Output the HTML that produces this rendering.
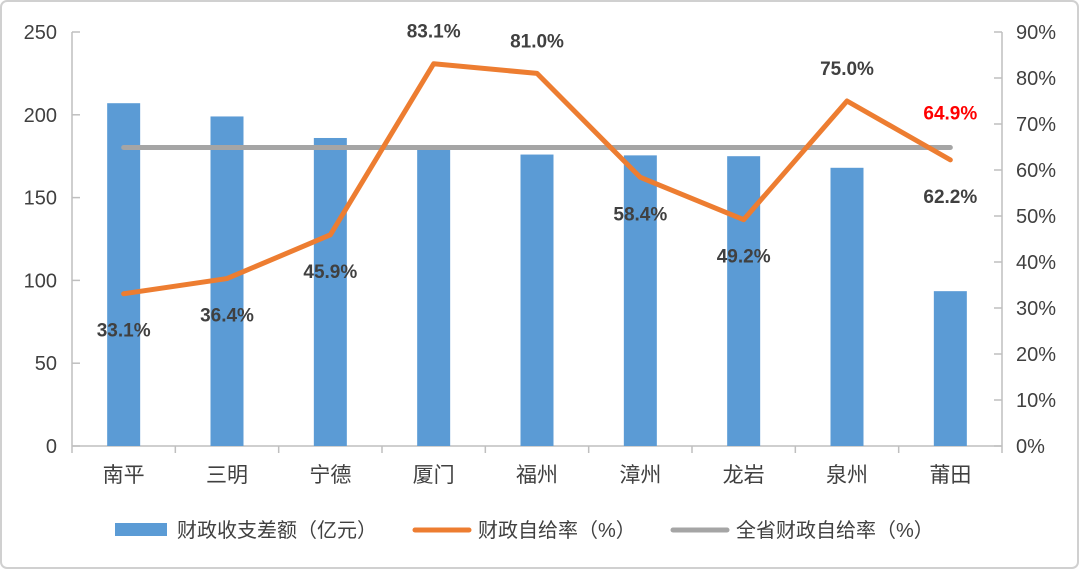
<!DOCTYPE html>
<html><head><meta charset="utf-8"><style>
body{margin:0;background:#fff}
svg text{font-family:"Liberation Sans","Noto Sans CJK SC",sans-serif}
</style></head><body>
<svg id="c" width="1080" height="570" viewBox="0 0 1080 570">
<rect x="1" y="1" width="1077" height="567" rx="6" fill="#fff" stroke="#d0d0d0" stroke-width="2"/>
<g id="g"></g>
<g>
<rect x="115" y="523" width="52" height="13" fill="#5B9BD5"/>
<text x="177" y="537" font-size="20" fill="#404040">财政收支差额（亿元）</text>
<line x1="415" y1="530" x2="469" y2="530" stroke="#ED7D31" stroke-width="5" stroke-linecap="round"/>
<text x="478" y="537" font-size="20" fill="#404040">财政自给率（%）</text>
<line x1="673" y1="530" x2="727" y2="530" stroke="#A5A5A5" stroke-width="5" stroke-linecap="round"/>
<text x="736" y="537" font-size="20" fill="#404040">全省财政自给率（%）</text>
</g>
</svg>
<script>
const categories=["南平","三明","宁德","厦门","福州","漳州","龙岩","泉州","莆田"];
const gaps=[207,199,186,180,176,175.5,175,168,93.5];
const rates=[33.1,36.4,45.9,83.1,81.0,58.4,49.2,75.0,62.2];
const provinceRate=64.9;
const leftTicks=[0,50,100,150,200,250];
const rightTicks=[0,10,20,30,40,50,60,70,80,90];
const labelAbove=[false,false,false,true,true,false,false,true,false];

const NS="http://www.w3.org/2000/svg";
const g=document.getElementById('g');
const X0=72,X1=1002,Y0=446,Y1=32;
const step=(X1-X0)/categories.length;
const xc=i=>X0+step*(i+0.5);
const yL=v=>Y0-(v/250)*(Y0-Y1);
const yR=v=>Y0-(v/90)*(Y0-Y1);
function mk(t,a,txt){const e=document.createElementNS(NS,t);for(const k in a)e.setAttribute(k,a[k]);if(txt!==undefined)e.textContent=txt;g.appendChild(e);return e;}

// axes
let e=mk('line',{x1:X0,y1:Y1,x2:X0,y2:Y0,stroke:'#bfbfbf','stroke-width':1.5});


e=mk('line',{x1:X1,y1:Y1,x2:X1,y2:Y0,stroke:'#bfbfbf','stroke-width':1.5});


e=mk('line',{x1:X0,y1:Y0,x2:X1,y2:Y0,stroke:'#bfbfbf','stroke-width':1.5});


leftTicks.forEach(v=>{
  const t=mk('line',{x1:X0,y1:yL(v),x2:X0+8,y2:yL(v),stroke:'#bfbfbf','stroke-width':1.5});
  
  
  const l=mk('text',{x:57,y:yL(v)+7,'font-size':20,fill:'#404040','text-anchor':'end'},String(v));
  
  
});
rightTicks.forEach(v=>{
  const t=mk('line',{x1:X1-8,y1:yR(v),x2:X1,y2:yR(v),stroke:'#bfbfbf','stroke-width':1.5});
  
  
  const l=mk('text',{x:1016,y:yR(v)+7,'font-size':20,fill:'#404040'},v+'%');
  
  
});
for(let i=0;i<=categories.length;i++){
  const t=mk('line',{x1:X0+step*i,y1:Y0,x2:X0+step*i,y2:Y0+7,stroke:'#bfbfbf','stroke-width':1.5});
  
  
}
categories.forEach((c,i)=>{
  const l=mk('text',{x:xc(i),y:482,'font-size':21,fill:'#404040','text-anchor':'middle'},c);
  
  
});
// bars
gaps.forEach((v,i)=>{
  const b=mk('rect',{x:xc(i)-16.5,y:yL(v),width:33,height:Y0-yL(v),fill:'#5B9BD5'});
  
  
});
// province line
e=mk('line',{x1:xc(0),y1:yR(provinceRate),x2:xc(categories.length-1),y2:yR(provinceRate),stroke:'#A5A5A5','stroke-width':5,'stroke-linecap':'round'});


// rate line
e=mk('polyline',{points:rates.map((v,i)=>xc(i)+','+yR(v)).join(' '),fill:'none',stroke:'#ED7D31','stroke-width':5,'stroke-linejoin':'round','stroke-linecap':'round'});


rates.forEach((v,i)=>{
  const y=labelAbove[i]?yR(v)-26:yR(v)+43;
  const l=mk('text',{x:xc(i),y:y,'font-size':19,'font-weight':'bold',fill:'#404040','text-anchor':'middle'},v.toFixed(1)+'%');
  
  
});
e=mk('text',{x:xc(categories.length-1),y:yR(provinceRate)-28,'font-size':19,'font-weight':'bold',fill:'#FF0000','text-anchor':'middle'},provinceRate.toFixed(1)+'%');


</script>
</body></html>
